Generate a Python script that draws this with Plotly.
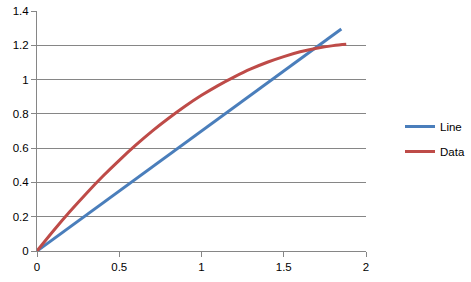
import plotly.graph_objects as go

line_x = [0, 1.85]
line_y = [0, 1.295]

data_x = [0, 0.1, 0.2, 0.3, 0.4, 0.5, 0.6, 0.7, 0.8, 0.9, 1.0, 1.1, 1.2, 1.3, 1.4, 1.5, 1.6, 1.7, 1.8, 1.88]
data_y = [0, 0.118, 0.230, 0.336, 0.436, 0.529, 0.617, 0.699, 0.774, 0.844, 0.908, 0.965, 1.016, 1.062,
          1.101, 1.134, 1.162, 1.183, 1.198, 1.206]

x_ticks = [0, 0.5, 1, 1.5, 2]
y_ticks = [0, 0.2, 0.4, 0.6, 0.8, 1, 1.2, 1.4]

fig = go.Figure()
fig.add_trace(go.Scatter(x=line_x, y=line_y, mode="lines", name="Line", legendgroup="a",
                         line=dict(color="#4A7EBB", width=3)))
fig.add_trace(go.Scatter(x=data_x, y=data_y, mode="lines", name="Data", legendgroup="b",
                         line=dict(color="#BE4B48", width=3, shape="spline")))

fig.update_layout(
    width=471, height=282,
    margin=dict(l=37, r=105, t=11, b=31, autoexpand=False),
    paper_bgcolor="white", plot_bgcolor="white",
    font=dict(family="Liberation Sans, Arial, sans-serif", size=11.5, color="#000000"),
    showlegend=True,
    legend=dict(xref="container", yref="container", x=400 / 471, y=1 - 139 / 282,
                xanchor="left", yanchor="middle", traceorder="grouped",
                tracegroupgap=6, itemwidth=30, font=dict(size=11.5), bgcolor="rgba(0,0,0,0)"),
    xaxis=dict(range=[0, 2], tickvals=x_ticks, ticktext=[str(v) for v in x_ticks],
               showgrid=False, zeroline=False, showline=True, linecolor="#868686", linewidth=1,
               ticks="outside", ticklen=5, tickcolor="#868686", fixedrange=True),
    yaxis=dict(range=[0, 1.4], tickvals=y_ticks, ticktext=[str(v) for v in y_ticks],
               showgrid=True, gridcolor="#868686", gridwidth=1, zeroline=False,
               showline=True, linecolor="#868686", linewidth=1,
               ticks="outside", ticklen=5, tickcolor="#868686", fixedrange=True),
)

fig.write_html("out.html")
